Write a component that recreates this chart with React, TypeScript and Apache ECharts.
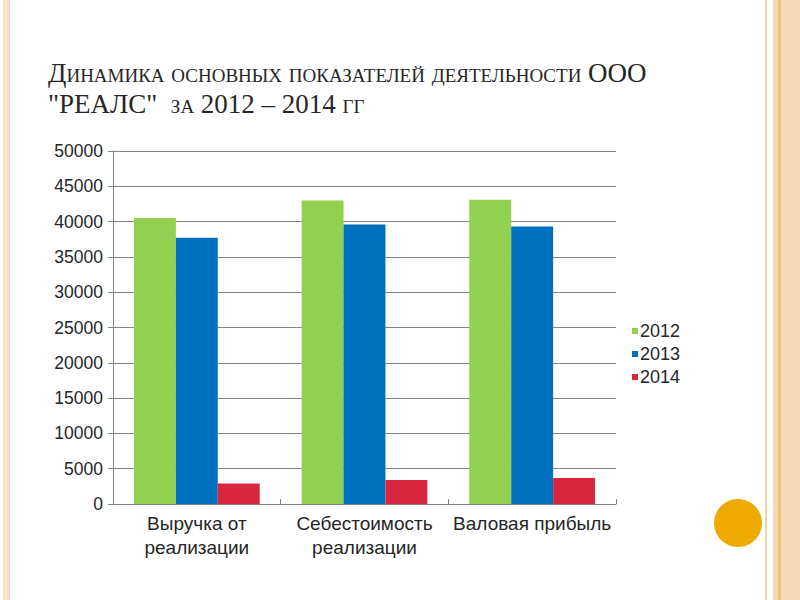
import React, { useEffect, useRef } from "react";
import * as echarts from "echarts";

const categories = ["Выручка от\nреализации", "Себестоимость\nреализации", "Валовая прибыль"];
const seriesNames = ["2012", "2013", "2014"];
const values2012 = [40500, 43000, 43100];
const values2013 = [37700, 39600, 39300];
const values2014 = [2900, 3400, 3700];
const seriesColors = ["#92D050", "#0070C0", "#D9263E"];
const titleLines = [
  "Динамика основных показателей деятельности ООО",
  "\"РЕАЛС\"  за 2012 – 2014 гг",
];

export default function App() {
  const ref = useRef<HTMLDivElement>(null);
  useEffect(() => {
    if (!ref.current) return;
    const chart = echarts.init(ref.current, null, { renderer: "svg" });
    const data = [values2012, values2013, values2014];
    chart.setOption({
      animation: false,
      backgroundColor: "#ffffff",
      textStyle: { fontFamily: "'Liberation Sans', Arial, sans-serif" },
      grid: { left: 113, top: 151, right: 184, bottom: 96, containLabel: false },
      legend: {
        orient: "vertical",
        left: 627,
        top: 317,
        itemWidth: 6,
        itemHeight: 6,
        itemGap: 5,
        icon: "rect",
        data: seriesNames,
        textStyle: { fontSize: 18, color: "#262626", padding: [0, 0, 0, -3] },
      },
      xAxis: {
        type: "category",
        data: categories,
        axisLine: { show: true, lineStyle: { color: "#868686", width: 1 } },
        axisTick: { show: true, length: 5, inside: true, lineStyle: { color: "#868686" } },
        axisLabel: { fontSize: 19, color: "#262626", margin: 7, lineHeight: 24, interval: 0 },
      },
      yAxis: {
        type: "value",
        min: 0,
        max: 50000,
        interval: 5000,
        axisLine: { show: true, lineStyle: { color: "#868686", width: 1 } },
        axisTick: { show: true, length: 5, lineStyle: { color: "#868686" } },
        axisLabel: { fontSize: 17.5, color: "#262626", margin: 10, formatter: (v: number) => String(v) },
        splitLine: { show: true, lineStyle: { color: "#868686", width: 1 } },
      },
      series: seriesNames.map((name, i) => ({
        name,
        type: "bar",
        data: data[i],
        barGap: "0%",
        barCategoryGap: "25%",
        itemStyle: { color: seriesColors[i] },
      })),
      graphic: [
        { type: "rect", shape: { x: 3, y: 0, width: 7, height: 600 }, style: { fill: "#F8DCC0" } },
        { type: "rect", shape: { x: 5, y: 0, width: 2, height: 600 }, style: { fill: "#FBE8D6" } },
        { type: "rect", shape: { x: 765, y: 0, width: 2, height: 600 }, style: { fill: "#F3D3B0" } },
        { type: "rect", shape: { x: 773, y: 0, width: 27, height: 600 }, style: { fill: "#F5D8B6" } },
        { type: "rect", shape: { x: 778, y: 0, width: 3, height: 600 }, style: { fill: "#EFC277" } },
        { type: "circle", shape: { cx: 738, cy: 523, r: 24 }, style: { fill: "#EEAA00" } },
        {
          type: "text",
          left: 48,
          top: 57,
          style: {
            text: titleLines.join("\n"),
            font: "small-caps 27px 'Liberation Serif', 'DejaVu Serif', serif",
            fill: "#262626",
            lineHeight: 31,
          },
        },
      ],
    });
    return () => chart.dispose();
  }, []);
  return <div ref={ref} style={{ position: "fixed", left: 0, top: 0, width: 800, height: 600 }} />;
}
